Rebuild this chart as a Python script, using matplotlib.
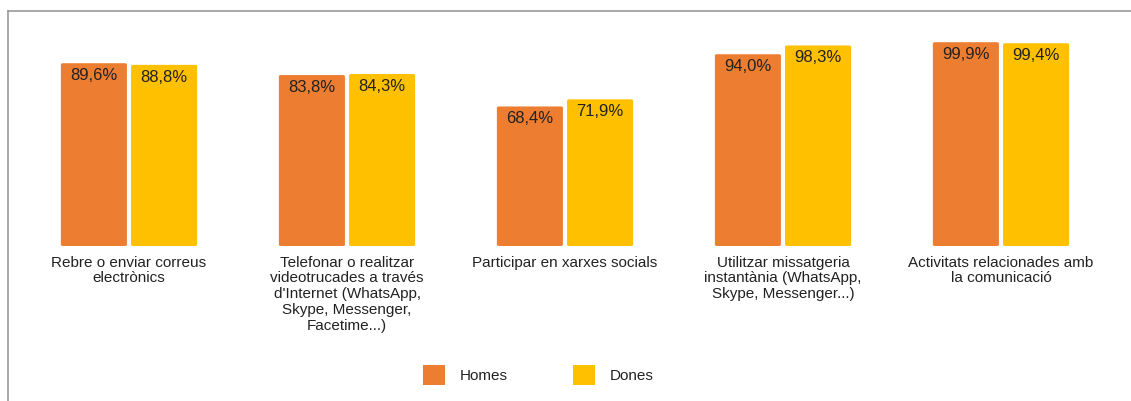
import matplotlib
matplotlib.use("Agg")
import matplotlib.pyplot as plt
from matplotlib.lines import Line2D
from matplotlib.patches import FancyBboxPatch
import numpy as np

plt.rcParams['font.family'] = ['Liberation Sans', 'DejaVu Sans']

categories = [
    "Rebre o enviar correus\nelectrònics",
    "Telefonar o realitzar\nvideotrucades a través\nd'Internet (WhatsApp,\nSkype, Messenger,\nFacetime...)",
    "Participar en xarxes socials",
    "Utilitzar missatgeria\ninstantània (WhatsApp,\nSkype, Messenger...)",
    "Activitats relacionades amb\nla comunicació",
]
homes = [89.6, 83.8, 68.4, 94.0, 99.9]
dones = [88.8, 84.3, 71.9, 98.3, 99.4]
series_names = ["Homes", "Dones"]
colors = ["#ED7D31", "#FFC000"]

fig = plt.figure(figsize=(11.31, 4.01), dpi=100)
ax = fig.add_axes([20/1131, (401-246)/401, 1090/1131, 204/401])
x = np.arange(len(categories))
w = 0.303
off = 0.161
text_color = "#222222"

for vals, sign, col, name in [(homes, -1, colors[0], series_names[0]), (dones, 1, colors[1], series_names[1])]:
    bars = ax.bar(x + sign*off, vals, width=w, color=col, label=name)
    for b, v in zip(bars, vals):
        b.set_visible(False)
        p = FancyBboxPatch((b.get_x(), 0), b.get_width(), v,
                           boxstyle="round,pad=0,rounding_size=0.012",
                           mutation_aspect=45, facecolor=col, edgecolor='none')
        ax.add_patch(p)
        ax.annotate(f"{v:.1f}%".replace(".", ","), (b.get_x()+b.get_width()/2, v),
                    xytext=(0, -3.5), textcoords="offset points",
                    ha="center", va="top", fontsize=12, color=text_color)

for xi, lab in zip(x, categories):
    ax.annotate(lab, (xi, 0), xytext=(0, -7), textcoords="offset points",
                ha="center", va="top", fontsize=11, color=text_color, linespacing=1.16)

ax.set_xlim(-0.5, len(categories)-0.5)
ax.set_ylim(0, 100)
ax.axis("off")

handles = [FancyBboxPatch((0, 0), 1, 1, boxstyle="round,pad=0,rounding_size=0.15",
                          facecolor=c, edgecolor='none') for c in colors]
fig.legend(handles, series_names, loc="center", bbox_to_anchor=(0.476, 1-375/401),
           ncol=2, frameon=False, fontsize=11, handlelength=1.45, handleheight=1.6,
           handletextpad=0.95, columnspacing=4.3, labelcolor=text_color)

# border lines (top and left)
fig.add_artist(Line2D([8/1131, 1], [1-11/401, 1-11/401], color="#999999", lw=1.2, transform=fig.transFigure))
fig.add_artist(Line2D([8/1131, 8/1131], [0, 1-11/401], color="#999999", lw=1.2, transform=fig.transFigure))

fig.savefig("out.png", dpi=100)
